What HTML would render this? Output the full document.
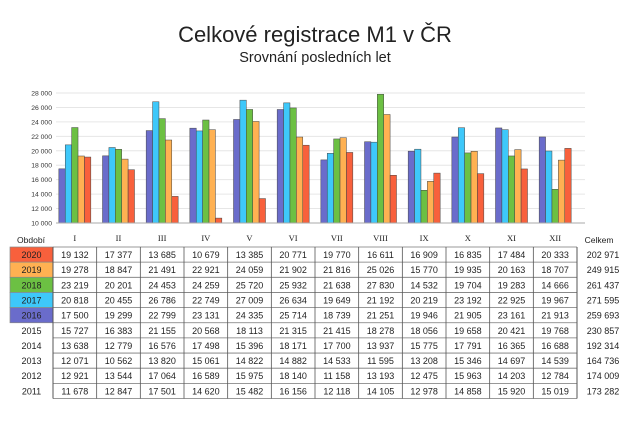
<!DOCTYPE html>
<html><head><meta charset="utf-8"><style>
html,body{margin:0;padding:0;background:#fff;}
svg{display:block;font-family:"Liberation Sans","DejaVu Sans",sans-serif;}
</style></head><body>
<svg id="s" width="630" height="422" viewBox="0 0 630 422" xmlns="http://www.w3.org/2000/svg">
<text x="315" y="42" text-anchor="middle" font-size="22" fill="#222">Celkové registrace M1 v ČR</text>
<text x="315" y="62" text-anchor="middle" font-size="14.5" fill="#222">Srovnání posledních let</text>
</svg>
<script>
const s=document.getElementById('s');const NS='http://www.w3.org/2000/svg';
function el(t,a,txt){const e=document.createElementNS(NS,t);for(const k in a)e.setAttribute(k,a[k]);if(txt!==undefined)e.textContent=txt;s.appendChild(e);return e;}
const rows=[
['2020',[19132,17377,13685,10679,13385,20771,19770,16611,16909,16835,17484,20333],'202 971','#f8603c'],
['2019',[19278,18847,21491,22921,24059,21902,21816,25026,15770,19935,20163,18707],'249 915','#ffb152'],
['2018',[23219,20201,24453,24259,25720,25932,21638,27830,14532,19704,19283,14666],'261 437','#6cc043'],
['2017',[20818,20455,26786,22749,27009,26634,19649,21192,20219,23192,22925,19967],'271 595','#3ec8fa'],
['2016',[17500,19299,22799,23131,24335,25714,18739,21251,19946,21905,23161,21913],'259 693','#6a6ccb'],
['2015',[15727,16383,21155,20568,18113,21315,21415,18278,18056,19658,20421,19768],'230 857'],
['2014',[13638,12779,16576,17498,15396,18171,17700,13937,15775,17791,16365,16688],'192 314'],
['2013',[12071,10562,13820,15061,14822,14882,14533,11595,13208,15346,14697,14539],'164 736'],
['2012',[12921,13544,17064,16589,15975,18140,11158,13193,12475,15963,14203,12784],'174 009'],
['2011',[11678,12847,17501,14620,15482,16156,12118,14105,12978,14858,15920,15019],'173 282']];
const fmt=v=>{const t=String(v);return t.length>3?t.slice(0,-3)+' '+t.slice(-3):t;};
const Y=v=>223-(v-10000)*130/18000;
for(let v=10000;v<=28000;v+=2000){const y=Y(v);el('line',{x1:56,x2:585,y1:y,y2:y,stroke:'#e6e6e6','stroke-width':1});el('text',{x:52,y:y+2.5,'text-anchor':'end','font-size':6.8,fill:'#333'},fmt(v));}
const x0=53,cw=(577-53)/12,months=['I','II','III','IV','V','VI','VII','VIII','IX','X','XI','XII'];
const order=[4,3,2,1,0];
for(let m=0;m<12;m++){const c=x0+cw*(m+0.5);
 order.forEach((r,i)=>{const v=rows[r][1][m];const y=Y(v);el('rect',{x:c-16+i*6.4,y:y,width:6.4,height:223-y,fill:rows[r][3],stroke:'#444','stroke-width':0.5});});
 el('text',{x:c,y:241,'text-anchor':'middle','font-size':8.5,'font-family':'Liberation Serif,serif',fill:'#222'},months[m]);}
el('line',{x1:56,x2:585,y1:223,y2:223,stroke:'#aaa','stroke-width':1});
el('text',{x:31,y:243,'text-anchor':'middle','font-size':8.5,fill:'#222'},'Období');
el('text',{x:599,y:243,'text-anchor':'middle','font-size':8.5,fill:'#222'},'Celkem');
const rt=247,rh=15.15;
rows.forEach((r,i)=>{const y=rt+i*rh;
 if(r[3])el('rect',{x:10,y:y,width:43,height:rh,fill:r[3],stroke:'#888','stroke-width':0.7});
 el('text',{x:31.5,y:y+11,'text-anchor':'middle','font-size':9,fill:'#222'},r[0]);
 r[1].forEach((v,m)=>el('text',{x:x0+cw*(m+0.5),y:y+11,'text-anchor':'middle','font-size':9,fill:'#222'},fmt(v)));
 el('text',{x:603,y:y+11,'text-anchor':'middle','font-size':9,fill:'#222'},r[2]);});
for(let i=0;i<=10;i++){const y=rt+i*rh;el('line',{x1:x0,x2:577,y1:y,y2:y,stroke:'#777','stroke-width':0.8});}
for(let m=0;m<=12;m++){const x=x0+cw*m;el('line',{x1:x,x2:x,y1:rt,y2:rt+10*rh,stroke:'#555','stroke-width':m==0||m==12?1:0.8});}
</script>
</body></html>
